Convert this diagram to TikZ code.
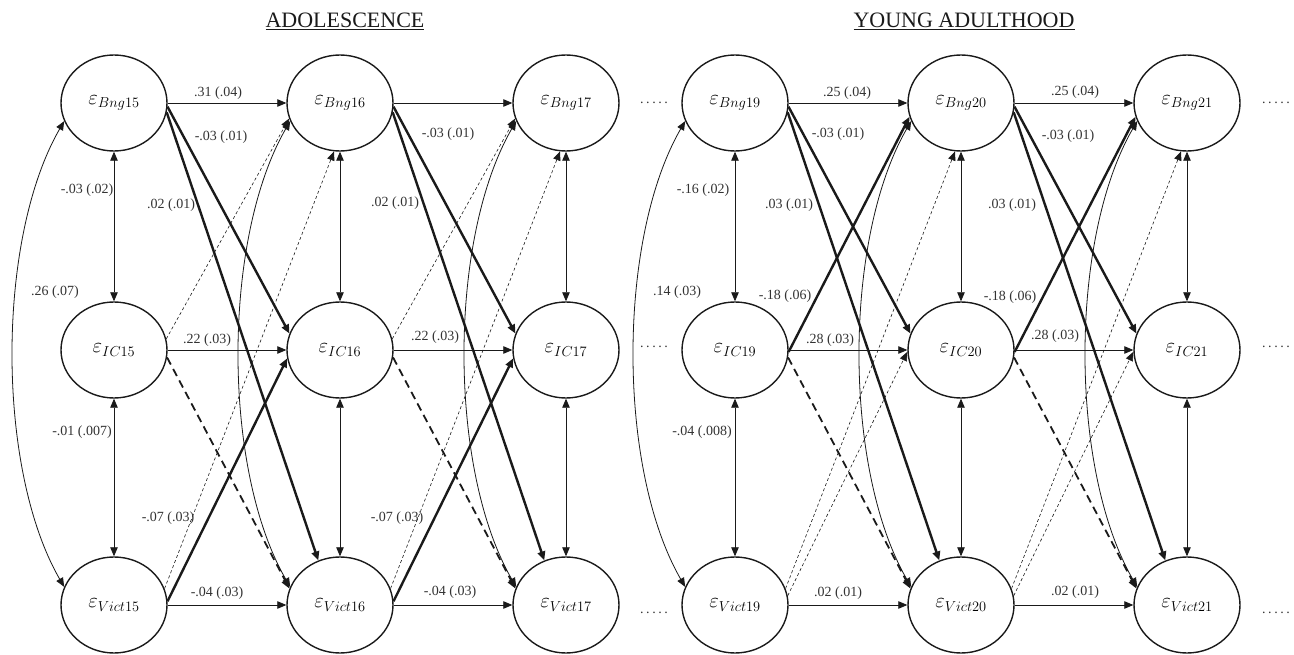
\documentclass[tikz,border=0pt]{standalone}
\usepackage{fontspec}
\setmainfont{Liberation Serif}
\usetikzlibrary{arrows.meta,shapes.geometric}
\DeclareMathSizes{20}{20}{15.5}{12}
\definecolor{Ink}{HTML}{1A1A1A}
\definecolor{Est}{HTML}{333333}
\tikzset{
  lat/.style={ellipse, draw=Ink, line width=1.4pt, minimum width=106pt, minimum height=96pt,
    inner sep=0pt, font=\fontsize{20}{24}\selectfont},
  lag/.style={Ink, line width=0.8pt, ->},
  lagthick/.style={Ink, line width=2.4pt, ->},
  lagdash/.style={Ink, line width=1.8pt, dash pattern=on 8pt off 5pt, ->},
  lagweak/.style={Ink, line width=0.6pt, dash pattern=on 3pt off 2.5pt, ->},
  cov/.style={Ink, line width=0.8pt, <->},
  est/.style={font=\fontsize{14}{16}\selectfont, text=Est, inner sep=0pt},
  wavetitle/.style={font=\fontsize{22}{26}\selectfont, text=Ink, inner sep=0pt},
}
\newcommand{\Cont}{.\kern2.6pt.\kern2.6pt.\kern2.6pt.\kern2.6pt.}
% one wave: three residuals and their covariances
\NewDocumentCommand{\Wave}{m m}{
  \node[lat] (B#1) at (#2,-103) {$\varepsilon_{Bng#1}$};
  \node[lat] (I#1) at (#2,-350) {$\varepsilon_{IC#1}$};
  \node[lat] (V#1) at (#2,-605) {$\varepsilon_{Vict#1}$};
  \draw[cov] (B#1.south) -- (I#1.north);
  \draw[cov] (I#1.south) -- (V#1.north);
  \draw[cov] (B#1.200) to[out=240,in=120,looseness=0.75] (V#1.160);
}
% paths shared by every lag
\NewDocumentCommand{\Lag}{m m}{
  \draw[lag] (B#1.east) -- (B#2.west);
  \draw[lag] (I#1.east) -- (I#2.west);
  \draw[lag] (V#1.east) -- (V#2.west);
  \draw[lagthick] (B#1.-4) -- (I#2.162);
  \draw[lagthick] (B#1.-10) -- (V#2.116);
  \draw[lagdash] (I#1.-8) -- (V#2.162);
  \draw[lagweak] (V#1.18) -- (B#2.263);
}

\begin{document}
\begin{tikzpicture}[x=1pt, y=1pt, >={Triangle[length=9pt,width=7.5pt]}]
\useasboundingbox (0,0) rectangle (1294,-655);

\node[wavetitle] (adol) at (345,-21) {\underline{ADOLESCENCE}};
\node[wavetitle] (young) at (964,-21) {\underline{YOUNG ADULTHOOD}};

\Wave{15}{114}
\Wave{16}{340}
\Wave{17}{566}
\Wave{19}{735}
\Wave{20}{961}
\Wave{21}{1187}

\Lag{15}{16}
\Lag{16}{17}
\Lag{19}{20}
\Lag{20}{21}

% adolescence
\draw[lagweak] (I15.12) -- (B16.197);
\draw[lagthick] (V15.4) -- (I16.189);
\draw[lagweak] (I16.12) -- (B17.197);
\draw[lagthick] (V16.4) -- (I17.189);

% young adulthood
\draw[lagthick] (I19.-2) -- (B20.195);
\draw[lagweak] (V19.10) -- (I20.182);
\draw[lagthick] (I20.-2) -- (B21.195);
\draw[lagweak] (V20.10) -- (I21.182);

% estimates
\node[est] (e-b1516) at (218,-93) {.31 (.04)};
\node[est] (e-bi1516) at (221,-137) {-.03 (.01)};
\node[est] (e-bv1516) at (171,-205) {.02 (.01)};
\node[est] (e-bi15) at (87,-190) {-.03 (.02)};
\node[est] (e-bv15) at (55,-292) {.26 (.07)};
\node[est] (e-i1516) at (207,-340) {.22 (.03)};
\node[est] (e-iv15) at (82,-432) {-.01 (.007)};
\node[est] (e-vi1516) at (168,-518) {-.07 (.03)};
\node[est] (e-v1516) at (217,-593) {-.04 (.03)};

\node[est] (e-bi1617) at (448,-134) {-.03 (.01)};
\node[est] (e-bv1617) at (395,-203) {.02 (.01)};
\node[est] (e-i1617) at (435,-337) {.22 (.03)};
\node[est] (e-vi1617) at (397,-518) {-.07 (.03)};
\node[est] (e-v1617) at (450,-592) {-.04 (.03)};

\node[est] (e-b1920) at (847,-93) {.25 (.04)};
\node[est] (e-bi1920) at (838,-134) {-.03 (.01)};
\node[est] (e-bv1920) at (789,-205) {.03 (.01)};
\node[est] (e-bi19) at (703,-190) {-.16 (.02)};
\node[est] (e-bv19) at (677,-292) {.14 (.03)};
\node[est] (e-ib1920) at (785,-296) {-.18 (.06)};
\node[est] (e-i1920) at (830,-340) {.28 (.03)};
\node[est] (e-iv19) at (702,-432) {-.04 (.008)};
\node[est] (e-v1920) at (838,-593) {.02 (.01)};

\node[est] (e-b2021) at (1075,-92) {.25 (.04)};
\node[est] (e-bi2021) at (1068,-136) {-.03 (.01)};
\node[est] (e-bv2021) at (1012,-205) {.03 (.01)};
\node[est] (e-ib2021) at (1010,-297) {-.18 (.06)};
\node[est] (e-i2021) at (1055,-336) {.28 (.03)};
\node[est] (e-v2021) at (1075,-592) {.02 (.01)};

% continuation dots
\node[est] (gap-b) at (654,-103) {\Cont};
\node[est] (gap-i) at (654,-347) {\Cont};
\node[est] (gap-v) at (654,-613) {\Cont};
\node[est] (end-b) at (1276,-103) {\Cont};
\node[est] (end-i) at (1276,-347) {\Cont};
\node[est] (end-v) at (1276,-613) {\Cont};
\end{tikzpicture}
\end{document}
